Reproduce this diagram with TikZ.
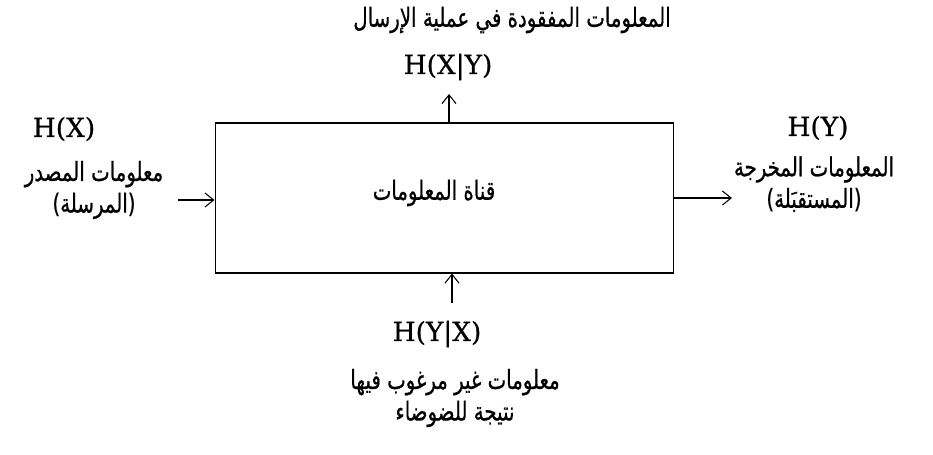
\documentclass[tikz,border=0pt]{standalone}
\usepackage{fontspec}
\newfontfamily\arabicfont[Script=Arabic,FakeStretch=0.75,FakeBold=0.6]{DejaVu Sans}
\newfontfamily\hfont[FakeBold=0.8]{DejaVu Serif}
\TeXXeTstate=1
\usetikzlibrary{arrows.meta,positioning}
\newcommand{\rl}[1]{\beginR #1\endR}

\begin{document}
\begin{tikzpicture}[x=0.02cm,y=-0.02cm,
    artext/.style={font=\arabicfont\fontsize{15}{18}\selectfont,align=center,inner sep=0pt},
    hlabel/.style={font=\hfont\fontsize{15}{17}\selectfont,inner sep=0pt},
    arr/.style={semithick,-{Straight Barb[length=5pt,width=8pt]}}]
  \useasboundingbox (0,0) rectangle (933,454);
  \node[draw,semithick,minimum width=9.18cm,minimum height=3cm] (chan) at (444.5,198) {};
  \node[artext] (chanlbl) at (434,193) {\rl{قناة المعلومات}};
  % top: lost information
  \coordinate (lostTip) at (449,94);
  \draw[arr] (chan.north -| lostTip) -- (lostTip);
  \node[hlabel] (hxy) at (448,67) {H(X|Y)};
  \node[artext] (lost) at (512,20) {\rl{المعلومات المفقودة في عملية الإرسال}};
  % left: source
  \coordinate (srcStart) at (178,200);
  \draw[arr] (srcStart) -- (srcStart -| chan.west);
  \node[hlabel] (hx) at (64,129) {H(X)};
  \node[artext] (src) at (94,190) {\rl{معلومات المصدر}\\\rl{(المرسلة)}};
  % right: output
  \coordinate (outTip) at (732,198);
  \draw[arr] (chan.east |- outTip) -- (outTip);
  \node[hlabel] (hy) at (818,128) {H(Y)};
  \node[artext] (out) at (814,184) {\rl{المعلومات المخرجة}\\\rl{(المستقبَلة)}};
  % bottom: noise
  \coordinate (noiseStart) at (452,303);
  \draw[arr] (noiseStart) -- (noiseStart |- chan.south);
  \node[hlabel] (hyx) at (437,334) {H(Y|X)};
  \node[artext] (noise) at (455,398) {\rl{معلومات غير مرغوب فيها}\\\rl{نتيجة للضوضاء}};
\end{tikzpicture}
\end{document}
